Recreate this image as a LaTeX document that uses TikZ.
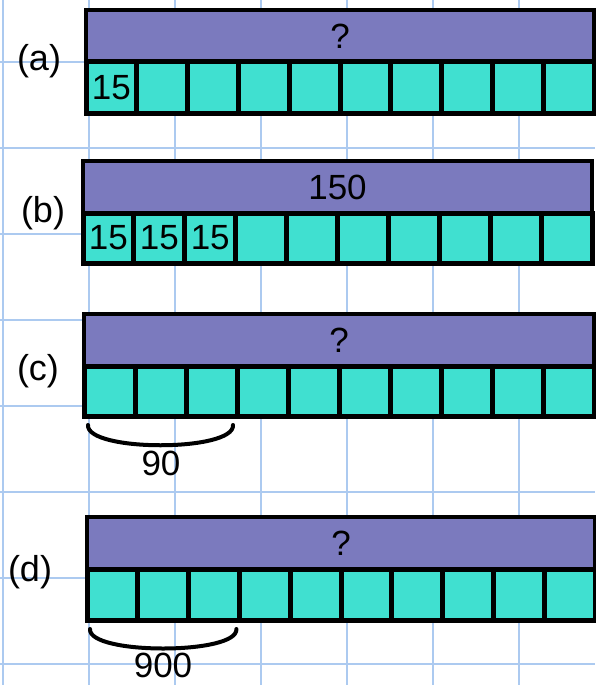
\documentclass[tikz,border=0pt]{standalone}
\usepackage{fontspec}
\setmainfont{Liberation Sans}
\usetikzlibrary{calc}
\definecolor{barpurple}{RGB}{123,122,190}
\definecolor{cellteal}{RGB}{64,224,208}
\definecolor{gridblue}{RGB}{172,202,240}
\begin{document}
\begin{tikzpicture}[x=1pt,y=-1pt,
  gridline/.style={draw=gridblue, line width=1.8pt},
  topbar/.style={draw=black, fill=barpurple, line width=4.5pt, inner sep=0pt, outer sep=0pt,
    font=\fontsize{35}{42}\selectfont},
  cellbox/.style={draw=black, fill=cellteal, line width=5pt, inner sep=0pt, outer sep=0pt,
    font=\fontsize{35}{42}\selectfont},
  partlabel/.style={inner sep=0pt, font=\fontsize{36}{43}\selectfont},
  bracecurve/.style={draw=black, line width=4pt, line cap=round},
  bracelabel/.style={inner sep=0pt, font=\fontsize{35}{42}\selectfont}
]
\useasboundingbox[fill=white] (0,0) rectangle (595,685);
% grid
\foreach \gx in {3,89,175,261,347,433,519}
  \draw[gridline] (\gx,0) -- (\gx,685);
\foreach \gy in {62,148,234,320,406,492,578,664}
  \draw[gridline] (0,\gy) -- (595,\gy);

% (a)
\node[topbar, minimum width=508, minimum height=52] (aTop) at (340,36) {?};
\foreach \i/\t in {1/15,2/,3/,4/,5/,6/,7/,8/,9/,10/}
  \node[cellbox, minimum width=50.8, minimum height=51] (a\i) at ({86+50.8*\i-25.4},87.5) {\t};
\node[partlabel] (la) at (39,61) {(a)};

% (b)
\node[topbar, minimum width=509, minimum height=52] (bTop) at (337.5,187) {150};
\foreach \i/\t in {1/15,2/15,3/15,4/,5/,6/,7/,8/,9/,10/}
  \node[cellbox, minimum width=50.9, minimum height=50] (b\i) at ({83+50.9*\i-25.45},238) {\t};
\node[partlabel] (lb) at (43,213) {(b)};

% (c)
\node[topbar, minimum width=510, minimum height=52] (cTop) at (339,340) {?};
\foreach \i in {1,...,10}
  \node[cellbox, minimum width=51, minimum height=50] (c\i) at ({84+51*\i-25.5},391) {};
\node[partlabel] (lc) at (38,371) {(c)};
\draw[bracecurve] ($(c1.south west)+(4,9)$) .. controls +(-2,27) and +(2,27) .. ($(c3.south east)+(-4,9)$);
\node[bracelabel] (c90) at (161,463) {90};

% (d)
\node[topbar, minimum width=508, minimum height=52] (dTop) at (341,543) {?};
\foreach \i in {1,...,10}
  \node[cellbox, minimum width=50.8, minimum height=51] (d\i) at ({87+50.8*\i-25.4},594.5) {};
\node[partlabel] (ld) at (30,572) {(d)};
\draw[bracecurve] ($(d1.south west)+(3,9)$) .. controls +(-2,26) and +(2,26) .. ($(d3.south east)+(-3,9)$);
\node[bracelabel] (d900) at (163,665) {900};
\end{tikzpicture}
\end{document}
